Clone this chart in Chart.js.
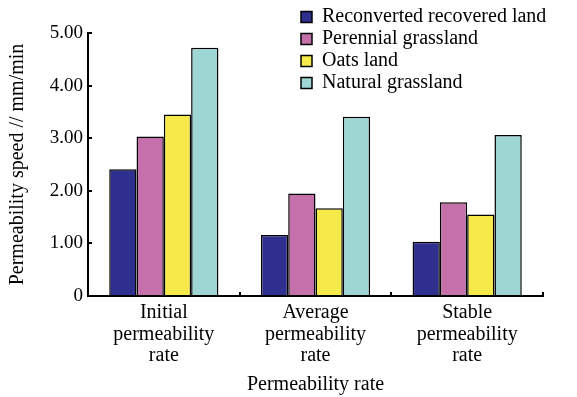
<!DOCTYPE html>
<html>
<head>
<meta charset="utf-8">
<script src="https://cdn.jsdelivr.net/npm/chart.js@4.4.1/dist/chart.umd.min.js"></script>
<style>
  html, body { margin: 0; padding: 0; background: #fff; }
  canvas { display: block; }
</style>
</head>
<body>
<canvas id="chart" width="577" height="397"></canvas>
<script>
// ---------------- Data ----------------
const categories = [
  ['Initial', 'permeability', 'rate'],
  ['Average', 'permeability', 'rate'],
  ['Stable', 'permeability', 'rate']
];
const seriesNames = ['Reconverted recovered land', 'Perennial grassland', 'Oats land', 'Natural grassland'];
const reconverted = [2.41, 1.16, 1.03];
const perennial = [3.03, 1.95, 1.78];
const oats = [3.45, 1.67, 1.55];
const natural = [4.72, 3.41, 3.06];
const yTickLabels = ['0', '1.00', '2.00', '3.00', '4.00', '5.00'];

const colors = ['#2e2f8e', '#c56fab', '#f5ea4a', '#9dd6d3'];
const FONT = "'Liberation Serif', 'Times New Roman', serif";

// ---------------- Legend placement (inside plot, top right) ----------------
const legendPlacer = {
  id: 'legendPlacer',
  afterLayout(chart) {
    const lg = chart.legend;
    const w = lg.width, h = lg.height;
    lg.left = 299;
    lg.top = 5;
    lg.right = lg.left + w;
    lg.bottom = lg.top + h + 10;
  }
};

const values = [reconverted, perennial, oats, natural];

new Chart(document.getElementById('chart'), {
  type: 'bar',
  data: {
    labels: categories,
    datasets: seriesNames.map((name, i) => ({
      label: name,
      data: values[i],
      backgroundColor: colors[i],
      borderColor: '#000',
      borderWidth: 1.5,
      barPercentage: 1,
      categoryPercentage: 0.72
    }))
  },
  options: {
    responsive: false,
    devicePixelRatio: 1,
    animation: false,
    layout: { padding: { top: 33, right: 34, left: 0, bottom: 0 } },
    plugins: {
      tooltip: { enabled: false },
      legend: {
        position: 'chartArea',
        align: 'start',
        labels: {
          color: '#000',
          font: { family: FONT, size: 20 },
          boxWidth: 11,
          boxHeight: 11,
          padding: 2
        }
      }
    },
    scales: {
      x: {
        grid: {
          offset: true,
          drawOnChartArea: false,
          tickLength: -4,
          color: '#000',
          lineWidth: 2
        },
        border: { color: '#000', width: 2 },
        ticks: {
          color: '#000',
          font: { family: FONT, size: 20, lineHeight: 1.08 },
          padding: 10,
          maxRotation: 0
        },
        title: {
          display: true,
          text: 'Permeability rate',
          color: '#000',
          font: { family: FONT, size: 20, lineHeight: 1.2 },
          padding: { top: 0, bottom: 0 }
        },
        afterFit(scale) { scale.height = 101; }
      },
      y: {
        min: 0,
        max: 5,
        grid: {
          drawOnChartArea: false,
          tickLength: -4,
          color: '#000',
          lineWidth: 2
        },
        border: { color: '#000', width: 2 },
        ticks: {
          stepSize: 1,
          color: '#000',
          font: { family: FONT, size: 19 },
          padding: 9,
          callback: (v, i) => yTickLabels[i]
        },
        title: {
          display: true,
          text: 'Permeability speed // mm/min',
          color: '#000',
          font: { family: FONT, size: 20, lineHeight: 1.2 },
          padding: { top: 6, bottom: 0 }
        },
        afterFit(scale) { scale.width = 88; }
      }
    }
  },
  plugins: [legendPlacer]
});
</script>
</body>
</html>
